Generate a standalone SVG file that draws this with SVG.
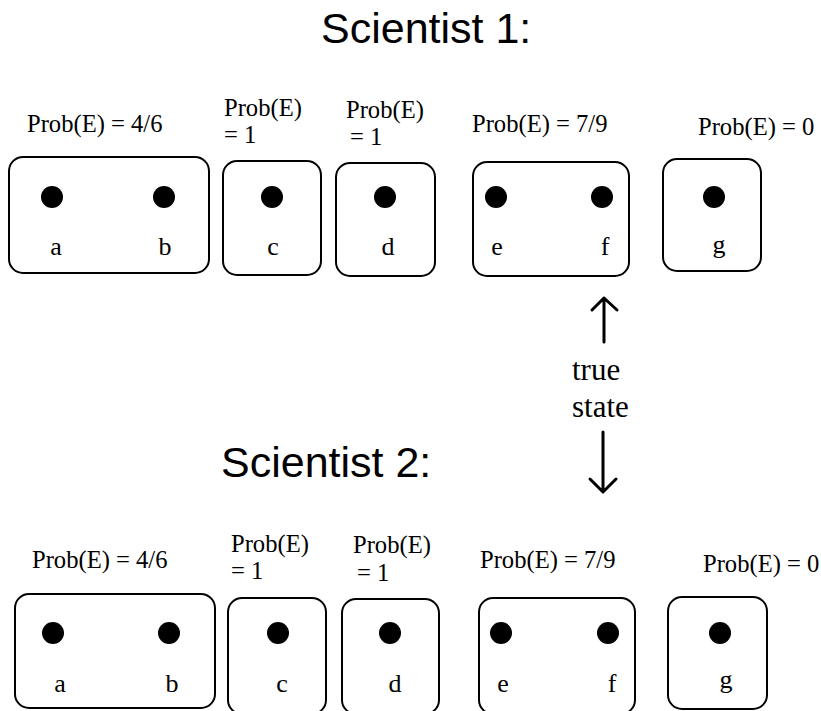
<svg xmlns="http://www.w3.org/2000/svg" width="821" height="711" viewBox="0 0 821 711">
<style>
.box{fill:none;stroke:#000;stroke-width:2}
.dot{fill:#000}
.t{font-family:"Liberation Serif","Times New Roman",serif;font-size:24.6px;fill:#000}
.lbl{font-family:"Liberation Serif","Times New Roman",serif;font-size:26px;fill:#000;text-anchor:middle}
.title{font-family:"Liberation Sans",Arial,sans-serif;font-size:43px;fill:#000}
.ts{font-family:"Liberation Serif","Times New Roman",serif;font-size:31px;fill:#000}
.arr{fill:none;stroke:#000;stroke-width:3;stroke-linecap:round;stroke-linejoin:round}
</style>
<rect width="821" height="711" fill="#fff"/>
<text class="title" x="321" y="43">Scientist 1:</text>
<text class="title" x="221" y="477">Scientist 2:</text>

<g id="s1-ab">
<text class="t" x="27" y="132">Prob(E) = 4/6</text>
<rect class="box" x="9" y="157" width="200" height="116" rx="14"/>
<circle class="dot" cx="52" cy="197" r="11"/>
<circle class="dot" cx="164" cy="197" r="11"/>
<text class="lbl" x="56" y="255">a</text>
<text class="lbl" x="165" y="255">b</text>
</g>
<g id="s1-c">
<text class="t" x="224" y="116">Prob(E)</text>
<text class="t" x="224" y="143">= 1</text>
<rect class="box" x="223" y="161" width="98" height="114" rx="14"/>
<circle class="dot" cx="272" cy="197" r="11"/>
<text class="lbl" x="273" y="255">c</text>
</g>
<g id="s1-d">
<text class="t" x="346" y="118">Prob(E)</text>
<text class="t" x="350" y="145">= 1</text>
<rect class="box" x="336" y="163" width="99" height="113" rx="14"/>
<circle class="dot" cx="385" cy="197" r="11"/>
<text class="lbl" x="388" y="255">d</text>
</g>
<g id="s1-ef">
<text class="t" x="472" y="132">Prob(E) = 7/9</text>
<rect class="box" x="473" y="162" width="156" height="114" rx="14"/>
<circle class="dot" cx="496" cy="197" r="11"/>
<circle class="dot" cx="602" cy="197" r="11"/>
<text class="lbl" x="497" y="255">e</text>
<text class="lbl" x="605" y="255">f</text>
</g>
<g id="s1-g">
<text class="t" x="698" y="135">Prob(E) = 0</text>
<rect class="box" x="663" y="159" width="98" height="112" rx="14"/>
<circle class="dot" cx="714" cy="197" r="11"/>
<text class="lbl" x="719" y="253">g</text>
</g>

<g id="s2-ab">
<text class="t" x="32" y="568">Prob(E) = 4/6</text>
<rect class="box" x="15" y="594" width="200" height="114" rx="14"/>
<circle class="dot" cx="53" cy="633" r="11"/>
<circle class="dot" cx="169" cy="633" r="11"/>
<text class="lbl" x="60" y="692">a</text>
<text class="lbl" x="172" y="692">b</text>
</g>
<g id="s2-c">
<text class="t" x="231" y="552">Prob(E)</text>
<text class="t" x="231" y="579">= 1</text>
<rect class="box" x="228" y="598" width="98" height="116" rx="14"/>
<circle class="dot" cx="278" cy="633" r="11"/>
<text class="lbl" x="282" y="692">c</text>
</g>
<g id="s2-d">
<text class="t" x="353" y="553">Prob(E)</text>
<text class="t" x="357" y="581">= 1</text>
<rect class="box" x="342" y="599" width="97" height="115" rx="14"/>
<circle class="dot" cx="390" cy="633" r="11"/>
<text class="lbl" x="395" y="692">d</text>
</g>
<g id="s2-ef">
<text class="t" x="480" y="568">Prob(E) = 7/9</text>
<rect class="box" x="479" y="598" width="156" height="116" rx="14"/>
<circle class="dot" cx="501" cy="633" r="11"/>
<circle class="dot" cx="608" cy="633" r="11"/>
<text class="lbl" x="503" y="692">e</text>
<text class="lbl" x="612" y="692">f</text>
</g>
<g id="s2-g">
<text class="t" x="703" y="572">Prob(E) = 0</text>
<rect class="box" x="668" y="597" width="99" height="112" rx="14"/>
<circle class="dot" cx="720" cy="633" r="11"/>
<text class="lbl" x="726" y="688">g</text>
</g>

<g id="true-state">
<text class="ts" x="572" y="380">true</text>
<text class="ts" x="572" y="417">state</text>
</g>

<g id="connectors">
<path class="arr" d="M604 342 V298 M592 310 L604 298 L617 310"/>
<path class="arr" d="M603 432 V492 M590 479 L603 492 L616 479"/>
</g>
</svg>
